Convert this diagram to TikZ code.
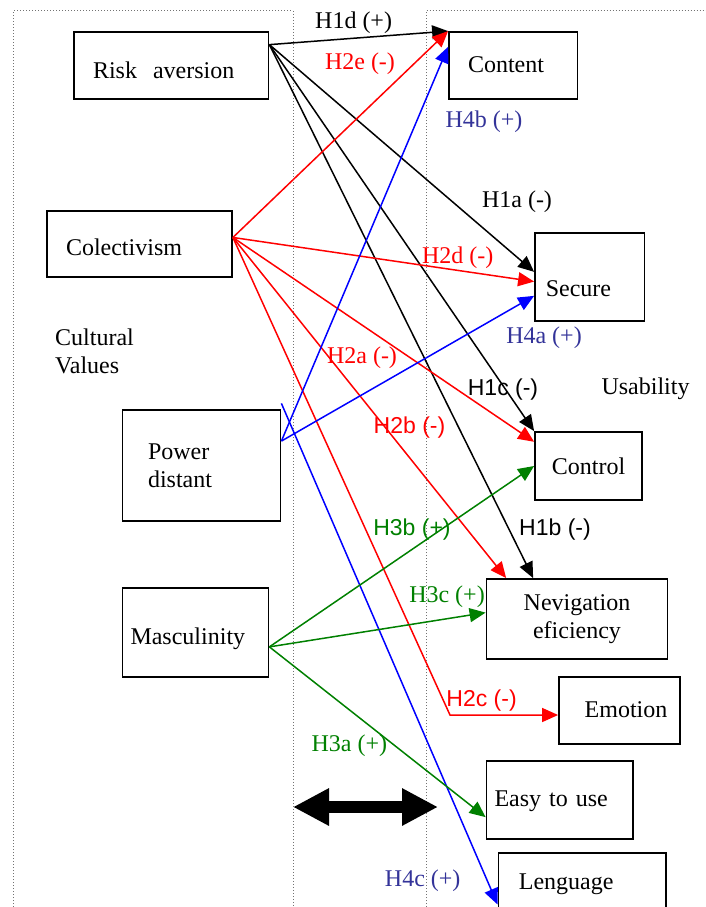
\documentclass[tikz,border=0pt]{standalone}
\usepackage{fontspec}
\setmainfont{Liberation Serif}
\newfontfamily\arialfont{Liberation Sans}
\usetikzlibrary{arrows.meta}
\definecolor{hypblue}{RGB}{51,51,153}
\definecolor{hypgreen}{RGB}{0,128,0}
\tikzstyle{arrow} = [line width=1.5pt, -{Triangle[length=16pt, width=14pt]}]
\tikzstyle{bigarrow} = [line width=12pt, {Triangle[length=36pt, width=35pt]}-{Triangle[length=36pt, width=35pt]}]
\tikzstyle{box} = [rectangle, draw=black, line width=1.8pt, align=left, inner ysep=0pt]
\tikzstyle{frame} = [dotted, draw=black!55, line width=1pt]
\tikzstyle{hyp} = [inner sep=0pt]
\tikzstyle{hypsans} = [inner sep=0pt, font=\arialfont\fontsize{23}{27}\selectfont]

\begin{document}
\begin{tikzpicture}[x=1pt, y=-1pt, font=\fontsize{24}{28}\selectfont]
		\useasboundingbox (0,0) rectangle (706,907);
		\draw [frame] (13.5,907) -- (13.5,10.7) -- (293,10.7) -- (293,907);
		\draw [frame] (426,907) -- (426,10.7) -- (706,10.7);
		\node (risk) [box, minimum width=194.5pt, minimum height=67pt, text width=156.5pt, inner xsep=19pt, text height=25pt, text depth=0pt] at (171.25,65.5) {Risk\ \ aversion};
		\node (content) [box, minimum width=128.5pt, minimum height=67pt, text width=90.5pt, inner xsep=19pt, text height=15pt, text depth=0pt] at (513.25,65.5) {Content};
		\node (colect) [box, minimum width=185pt, minimum height=66pt, text width=147pt, inner xsep=19pt, text height=22pt, text depth=0pt] at (139.5,244) {Colectivism};
		\node (secure) [box, minimum width=109.5pt, minimum height=88pt, text width=88pt, inner xsep=10.75pt, text height=40pt, text depth=0pt] at (589.75,276.7) {Secure};
		\node (power) [box, minimum width=158pt, minimum height=111pt, text width=107pt, inner xsep=25.5pt] at (201.5,465.5) {Power\\distant};
		\node (control) [box, minimum width=107pt, minimum height=68pt, text width=77pt, inner xsep=15pt, align=center, text height=16pt, text depth=0pt] at (588.5,466) {Control};
		\node (nev) [box, minimum width=181pt, minimum height=80pt, text width=161pt, inner xsep=10pt, align=center] at (577,619) {Nevigation\\eficiency};
		\node (masc) [box, minimum width=146pt, minimum height=89pt, text width=130pt, inner xsep=8pt, text height=23pt, text depth=0pt] at (195.5,632.5) {Masculinity};
		\node (emotion) [box, minimum width=121pt, minimum height=67pt, text width=69.6pt, inner xsep=25.7pt, text height=13pt, text depth=0pt] at (619.5,710.5) {\mbox{Emotion}};
		\node (easy) [box, minimum width=146.5pt, minimum height=78pt, text width=130.5pt, inner xsep=8pt, text height=13.4pt, text depth=0pt] at (559.75,800) {Easy to use};
		\node (lang) [box, minimum width=167.4pt, minimum height=67pt, text width=126.6pt, inner xsep=20.4pt, text height=5.6pt, text depth=0pt] at (582.15,886.5) {Lenguage};
		\node (values) [hyp, align=left, anchor=west] at (55,351.8) {Cultural\\Values};
		\node (usab) [hyp] at (645.5,389) {Usability};
		\node (h1d) [hyp] at (353.6,22.5) {H1d (+)};
		\node (h2e) [hyp, text=red] at (360,64) {H2e (-)};
		\node (h4b) [hyp, text=hypblue] at (484,121.7) {H4b (+)};
		\node (h1a) [hyp] at (517,201.7) {H1a (-)};
		\node (h2d) [hyp, text=red] at (457.8,257.5) {H2d (-)};
		\node (h4a) [hyp, text=hypblue] at (544,337.5) {H4a (+)};
		\node (h2a) [hyp, text=red] at (362,357.5) {H2a (-)};
		\node (h1c) [hypsans] at (503,390) {H1c (-)};
		\node (h2b) [hypsans, text=red] at (409.5,428) {H2b (-)};
		\node (h3b) [hypsans, text=hypgreen] at (412,530) {H3b (+)};
		\node (h1b) [hypsans] at (555,530) {H1b (-)};
		\node (h3c) [hyp, text=hypgreen] at (447,596.7) {H3c (+)};
		\node (h2c) [hypsans, text=red] at (481.6,701) {H2c (-)};
		\node (h3a) [hyp, text=hypgreen] at (349.3,746) {H3a (+)};
		\node (h4c) [hyp, text=hypblue] at (422.7,881) {H4c (+)};
		\coordinate (bend) at (450,715);
		\coordinate (pdtop) at ([yshift=5.7pt]power.north east);
		\coordinate (swapl) at (293,807);
		\coordinate (swapr) at (438,807);
		\draw [arrow] (risk.12) -- (content.north west);
		\draw [arrow] (risk.12) -- (secure.175);
		\draw [arrow] (risk.12) -- (control.north west);
		\draw [arrow] (risk.12) -- (nev.137);
		\draw [arrow, red] (colect.4) -- (content.north west);
		\draw [arrow, red] (colect.4) -- (secure.185);
		\draw [arrow, red] (colect.4) -- (control.156);
		\draw [arrow, red] (colect.4) -- (nev.150);
		\draw [arrow, red] (colect.4) -- (bend) -- (bend -| emotion.west);
		\draw [arrow, blue] (power.17) -- (content.164);
		\draw [arrow, blue] (power.17) -- (secure.199);
		\draw [arrow, blue] (pdtop) -- (lang.192);
		\draw [arrow, hypgreen] (masc.349) -- (control.west);
		\draw [arrow, hypgreen] (masc.349) -- (nev.176);
		\draw [arrow, hypgreen] (masc.349) -- (easy.193);
		\draw [bigarrow] (swapl) -- (swapr);
	\end{tikzpicture}
\end{document}
